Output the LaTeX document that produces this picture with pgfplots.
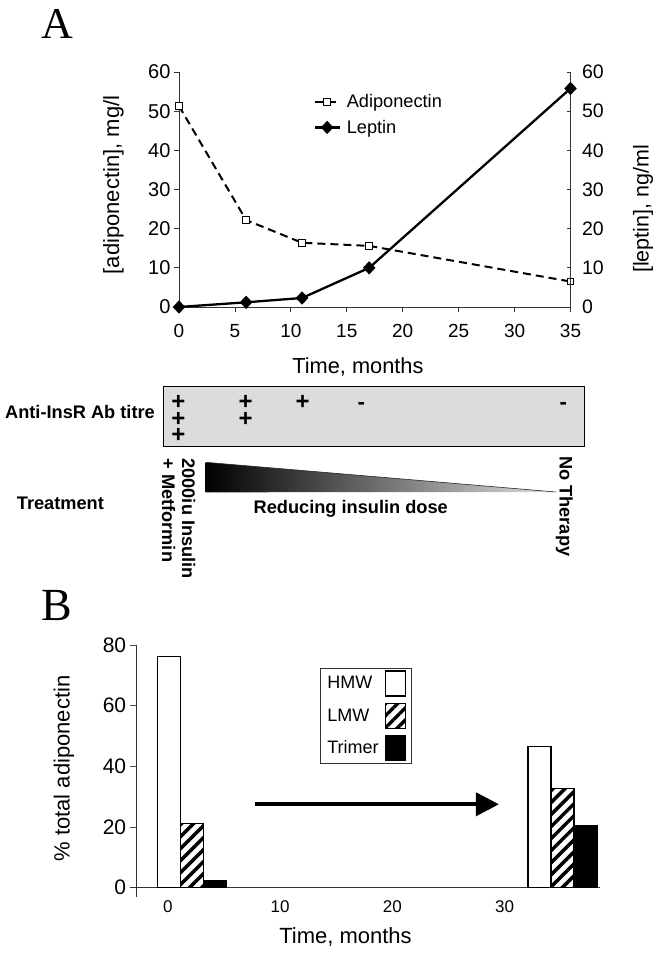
\documentclass[border=0pt]{standalone}
\usepackage{fontspec}
\setmainfont{Liberation Sans}
\newfontfamily\seriffont{Liberation Serif}
\usepackage{pgfplots}
\pgfplotsset{compat=1.18}
\usetikzlibrary{patterns.meta,arrows.meta}
\newcommand{\fs}[1]{\fontsize{#1}{#1}\selectfont}
\definecolor{boxgray}{RGB}{220,220,220}
\begin{document}
\begin{tikzpicture}
\useasboundingbox (0,0) rectangle (659pt,-957pt);

% ---------------- Panel A: adiponectin (left axis)
\begin{axis}[
  at={(179pt,-307pt)}, anchor=south west, scale only axis,
  width=391.5pt, height=235pt,
  xmin=0, xmax=35, ymin=0, ymax=60,
  axis x line*=bottom, axis y line*=left,
  axis line style={-, black!80, line width=0.8pt},
  xtick={0,5,...,35}, ytick={0,10,...,60},
  tick align=outside, major tick length=5pt,
  tick style={black!80, line width=0.8pt},
  xticklabel style={font=\fs{19}, anchor=base, yshift=-25.5pt},
  yticklabel style={font=\fs{20}},
  /pgf/number format/assume math mode=true,
  clip=false,
]
\addplot[black, line width=2pt, dash pattern=on 8pt off 5pt, mark=square*, mark size=3.3pt,
  mark options={solid, fill=white, line width=0.8pt}]
  coordinates {(0,51.3)(6,22.2)(11,16.4)(17,15.6)(35,6.5)};
\end{axis}

% ---------------- Panel A: leptin (right axis)
\begin{axis}[
  at={(179pt,-307pt)}, anchor=south west, scale only axis,
  width=391.5pt, height=235pt,
  xmin=0, xmax=35, ymin=0, ymax=60,
  axis x line=none, axis y line*=right,
  axis line style={-, black!80, line width=0.8pt},
  ytick={0,10,...,60},
  tick align=inside, major tick length=4pt,
  tick style={black!80, line width=0.8pt},
  yticklabel style={font=\fs{19.5}, xshift=8pt},
  /pgf/number format/assume math mode=true,
  clip=false,
  legend image code/.code={\draw[mark repeat=2,mark phase=2,#1] plot coordinates {(0pt,0pt) (12.5pt,0pt) (25pt,0pt)};},
  legend cell align=left,
  legend style={draw=none, fill=none, at={(0.343,0.914)}, anchor=north west,
    inner sep=0pt, font=\fs{18.2}, row sep=7pt,
    /tikz/every odd column/.append style={column sep=4pt}},
]
\addlegendimage{black, line width=2pt, dash pattern=on 8pt off 5pt, mark=square*, mark size=3.3pt,
  mark options={solid, fill=white, line width=0.8pt}}
\addplot[black, line width=2.3pt, mark=diamond*, mark size=5pt, mark options={xscale=1.25}]
  coordinates {(0,0)(6,1.2)(11,2.3)(17,10)(35,55.8)};
\legend{Adiponectin, Leptin}
\end{axis}

% axis titles panel A
\node[font=\seriffont\fs{44}, inner sep=0pt] at (57pt,-23.5pt) {A};
\node[font=\fs{21.8}, inner sep=0pt, anchor=base] at (357.9pt,-373.3pt) {Time, months};
\node[font=\fs{22}, inner sep=0pt, rotate=90] at (113.5pt,-185pt) {[adiponectin], mg/l};
\node[font=\fs{21.5}, inner sep=0pt, rotate=90] at (643pt,-209pt) {[leptin], ng/ml};

% ---------------- middle: antibody titre and treatment
\draw[line width=1.5pt, fill=boxgray] (163.3pt,-386.7pt) rectangle (584.7pt,-446.7pt);
\node[font=\bfseries\fs{18.2}, inner sep=0pt, anchor=base east] at (155pt,-418.3pt) {Anti-InsR Ab titre};
\begin{scope}[every node/.style={font=\bfseries\fontsize{24}{16.3}\selectfont, inner sep=0pt, anchor=north, align=center}]
\node at (178.3pt,-395.7pt) {+\\+\\+};
\node at (245.7pt,-395.7pt) {+\\+};
\node at (302.7pt,-395.7pt) {+};
\end{scope}
\begin{scope}[every node/.style={font=\bfseries\fs{22}, inner sep=0pt, anchor=base}]
\node at (361.3pt,-409.7pt) {-};
\node at (563.3pt,-409.7pt) {-};
\end{scope}
\node[font=\bfseries\fs{18.2}, inner sep=0pt, anchor=base west] at (16.7pt,-509.3pt) {Treatment};
\node[font=\bfseries\fs{18.2}, inner sep=0pt, anchor=base west, rotate=-90] at (182pt,-458.3pt) {2000iu Insulin};
\node[font=\bfseries\fs{18.2}, inner sep=0pt, anchor=base west, rotate=-90] at (162pt,-458.3pt) {+ Metformin};
\node[font=\bfseries\fs{18.2}, inner sep=0pt, anchor=base west, rotate=-90] at (559.5pt,-456pt) {No Therapy};
\shade[left color=black, right color=black!12] (205.7pt,-462.3pt) -- (205.7pt,-492.3pt) -- (555.7pt,-492pt) -- cycle;
\draw[black!85, line width=0.6pt] (205.7pt,-462.3pt) -- (555.7pt,-492pt);
\node[font=\bfseries\fs{18.2}, inner sep=0pt, anchor=base] at (350.7pt,-513.3pt) {Reducing insulin dose};

% ---------------- Panel B
\begin{axis}[
  at={(136.7pt,-887.7pt)}, anchor=south west, scale only axis,
  width=463.3pt, height=242.7pt,
  xmin=-2.78, xmax=38.51, ymin=0, ymax=80,
  axis x line*=bottom, axis y line*=left,
  axis line style={-, black!80, line width=0.8pt},
  x axis line style={shorten <=-7pt},
  y axis line style={shorten <=-9pt},
  xtick={0,10,20,30}, ytick={0,20,...,80},
  xtick style={draw=none},
  ytick style={black!70, line width=0.8pt},
  tick align=outside, major tick length=7pt,
  xticklabel style={font=\fs{17}, anchor=base, yshift=-18pt},
  yticklabel style={font=\fs{21}},
  /pgf/number format/assume math mode=true,
  clip=false,
  legend image code/.code={\draw[#1] (0pt,-12.5pt) rectangle (20pt,12.5pt);},
  legend plot pos=right,
  legend cell align=left,
  legend style={at={(0.3956,0.9052)}, anchor=north west, draw=black!80, line width=0.8pt,
    inner xsep=5pt, inner ysep=2pt, font=\fs{18}, row sep=6pt,
    /tikz/every odd column/.append style={column sep=4pt}},
]
\addplot[ybar, bar width=2.05, bar shift=0pt, draw=black, line width=1.2pt, fill=white]
  coordinates {(0.12,76.1)(33.12,46.5)};
\addplot[ybar, bar width=2.05, bar shift=0pt, draw=black, line width=1.2pt,
  pattern={Lines[angle=45,distance=8.5pt,line width=3.5pt]}]
  coordinates {(2.15,21.2)(35.17,32.8)};
\addplot[ybar, bar width=2.05, bar shift=0pt, draw=black, line width=1.2pt, fill=black]
  coordinates {(4.17,2.5)(37.26,20.4)};
\legend{HMW, LMW, Trimer}
\draw[line width=4pt, -{Triangle[length=23pt,width=23pt]}] (axis cs:7.76,27.5) -- (axis cs:29.5,27.5);
\end{axis}

\node[font=\seriffont\fs{46}, inner sep=0pt] at (57pt,-605.5pt) {B};
\node[font=\fs{22}, inner sep=0pt, rotate=90] at (64pt,-768.5pt) {\% total adiponectin};
\node[font=\fs{22}, inner sep=0pt, anchor=base] at (345.5pt,-943.3pt) {Time, months};
\end{tikzpicture}
\end{document}
